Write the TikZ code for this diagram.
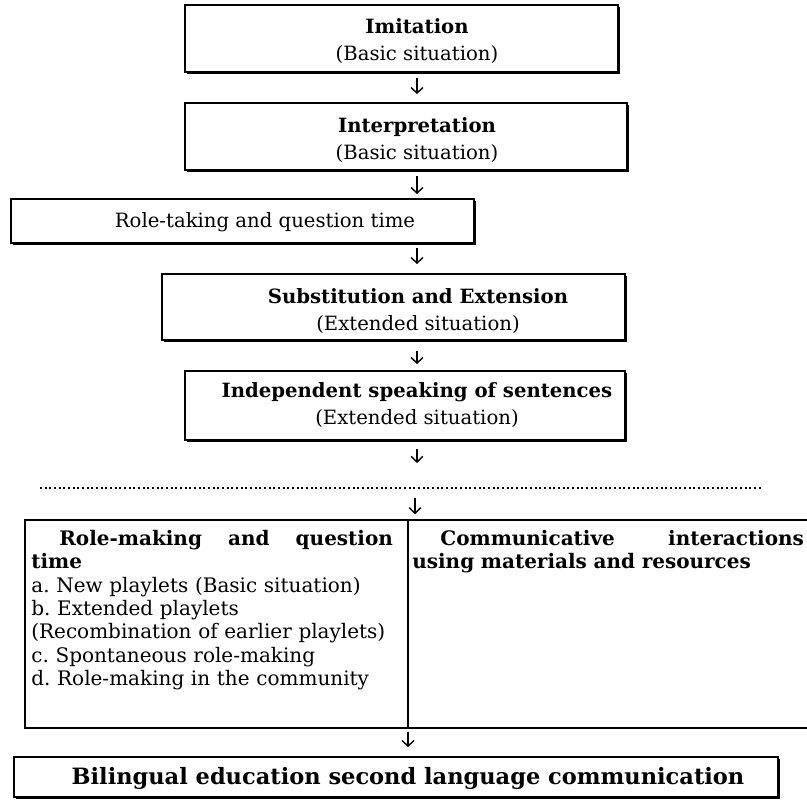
\documentclass[tikz,border=0pt]{standalone}
\usepackage{fontspec}
\setmainfont{DejaVu Serif}
\usetikzlibrary{arrows.meta,shadows}

\tikzset{
  stepbox/.style={draw, line width=1pt, fill=white, inner sep=0pt,
    drop shadow={shadow xshift=1.2pt, shadow yshift=-1.2pt, fill=black, opacity=1}},
  boxtext/.style={align=center, inner sep=0pt, font=\fontsize{11.8}{16}\selectfont},
  celltext/.style={align=left, inner sep=0pt, anchor=north west, font=\fontsize{12}{14}\selectfont},
  downarrow/.style={-{Straight Barb[length=3.4pt,width=7pt]}, line width=0.85pt},
  dotline/.style={line width=1.2pt, dash pattern=on 1.2pt off 1.6pt},
}

\begin{document}
\frenchspacing
\begin{tikzpicture}[x=0.6pt, y=-0.6pt]
\useasboundingbox (0,0) rectangle (807,803);
\coordinate (ax) at (417,0);

% the five steps
\node[stepbox, minimum width=259.8pt, minimum height=40.2pt] (imit) at (401.5,38.5) {};
\node[boxtext] (imitT) at (417,41) {\textbf{Imitation}\\(Basic situation)};

\node[stepbox, minimum width=265.2pt, minimum height=40.2pt] (interp) at (406,136.5) {};
\node[boxtext] (interpT) at (417,140) {\textbf{Interpretation}\\(Basic situation)};

\node[stepbox, minimum width=277.8pt, minimum height=26.4pt] (roletak) at (242.5,221) {};
\node[boxtext] (roletakT) at (265,222) {Role-taking and question time};

\node[stepbox, minimum width=277.8pt, minimum height=39.6pt] (subst) at (393.5,307) {};
\node[boxtext] (substT) at (418,311) {\textbf{Substitution and Extension}\\(Extended situation)};

\node[stepbox, minimum width=264pt, minimum height=41.4pt] (indep) at (405,405.5) {};
\node[boxtext] (indepT) at (417,405) {\textbf{Independent speaking of sentences}\\(Extended situation)};

\draw[downarrow, shorten <=3pt, shorten >=4.8pt] (imit.south -| ax) -- (interp.north -| ax);
\draw[downarrow, shorten <=3pt, shorten >=2.4pt] (interp.south -| ax) -- (roletak.north -| ax);
\draw[downarrow, shorten <=2.4pt, shorten >=5.4pt] (roletak.south -| ax) -- (subst.north -| ax);
\draw[downarrow, shorten <=6pt, shorten >=3.6pt] (subst.south -| ax) -- (indep.north -| ax);

% dotted separator
\coordinate (dotL) at (40,488);
\coordinate (dotR) at (762,488);
\draw[dotline] (dotL) -- (dotR);
\draw[downarrow, shorten <=4.8pt, shorten >=15pt] (indep.south -| ax) -- (ax |- dotL);

% two-column table
\node[draw, line width=0.8pt, inner sep=0pt, minimum width=474pt, minimum height=124.8pt] (tab) at (420,624) {};
\coordinate (divx) at (408,0);
\draw[line width=0.8pt] (tab.north -| divx) -- (tab.south -| divx);
\draw[downarrow, shorten <=6pt, shorten >=3pt] (dotL -| 415,0) -- (tab.north -| 415,0);

\node[celltext, text width=217pt] (leftcell) at (31,530) {%
  {\bfseries\hspace*{1.4em}Role-making\hfill and\hfill question\\time}\\
  a. New playlets (Basic situation)\\
  b. Extended playlets\\
  (Recombination of earlier playlets)\\
  c. Spontaneous role-making\\
  d. Role-making in the community};
\node[celltext, text width=235pt] (rightcell) at (412,530) {%
  \bfseries\hspace*{1.4em}Communicative\hfill interactions\\
  using materials and resources};

% final outcome
\node[stepbox, minimum width=458.4pt, minimum height=24pt] (final) at (396,777) {};
\node[boxtext, font=\fontsize{13.5}{16}\selectfont\bfseries] (finalT) at (408,778) {Bilingual education second language communication};
\draw[downarrow, shorten <=1.8pt, shorten >=5.4pt] (tab.south -| divx) -- (final.north -| divx);
\end{tikzpicture}
\end{document}
